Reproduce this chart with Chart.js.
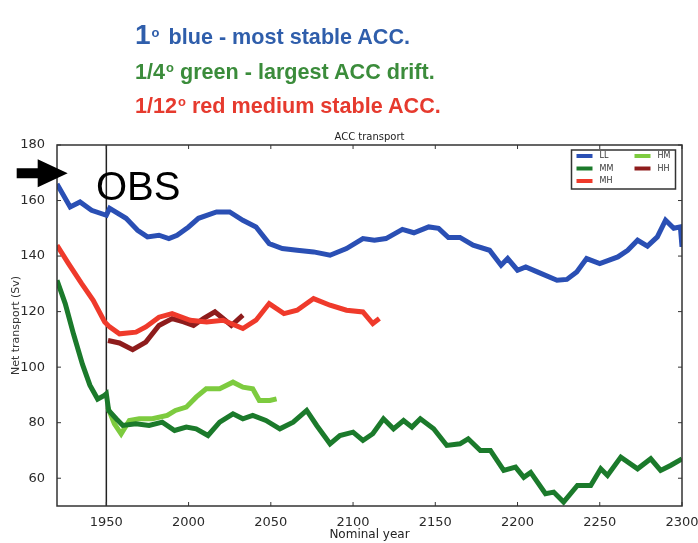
<!DOCTYPE html>
<html>
<head>
<meta charset="utf-8">
<script src="https://cdn.jsdelivr.net/npm/chart.js@4.4.1/dist/chart.umd.min.js"></script>
<style>
    html, body { margin: 0; padding: 0; background: #fff; overflow: hidden; width: 698px; height: 543px; }
    #wrap { position: relative; width: 720px; height: 543px; }
    #chart { position: absolute; left: 0; top: 0; }
    .note { position: absolute; left: 135px; font-family: "Liberation Sans", Arial, sans-serif; font-weight: bold; white-space: nowrap; line-height: 1; font-size: 21.6px; }
    .note .deg { position: relative; top: -0.55em; font-size: 60%; margin-left: 1px; margin-right: 6px; }
    .blue { color: #2f5eab; top: 21px; }
    .blue .big { font-size: 28px; }
    .blue .deg { margin-right: 9px; }
    .green { color: #3b8c3b; top: 61px; }
    .red { color: #e63a2e; top: 95px; }
</style>
</head>
<body>
<div id="wrap">
    <canvas id="chart" width="720" height="543"></canvas>
    <div class="note blue"><span class="big">1</span><span class="deg">o</span>blue - most stable ACC.</div>
    <div class="note green">1/4<span class="deg">o</span>green - largest ACC drift.</div>
    <div class="note red">1/12<span class="deg">o</span>red medium stable ACC.</div>
</div>
<script>
// ---------------- DATA ----------------
const xTicks = [1950, 2000, 2050, 2100, 2150, 2200, 2250, 2300];
const yTicks = [60, 80, 100, 120, 140, 160, 180];
const obsYear = 1950;

// LL (1 degree)
const llYears = [1920, 1928, 1934, 1941, 1950, 1952, 1962, 1969, 1975, 1982, 1988, 1993, 2000, 2006, 2017, 2025,
    2033, 2041, 2049, 2057, 2066, 2076, 2086, 2096, 2106, 2113, 2120, 2130, 2137, 2146, 2152, 2158, 2165, 2173,
    2183, 2190, 2194, 2200, 2205, 2212, 2224, 2230, 2236, 2242, 2250, 2261, 2267, 2273, 2279, 2285, 2290, 2295, 2299, 2300];
const llValues = [166, 157.7, 159.5, 156.5, 154.7, 157.2, 153.6, 149.3, 146.9, 147.5, 146.3, 147.5, 150.5, 153.6, 155.9, 155.9,
    152.9, 150.5, 144.5, 142.7, 142.1, 141.5, 140.3, 142.7, 146.3, 145.7, 146.3, 149.6, 148.4, 150.5, 150, 146.7, 146.7, 143.9,
    142.1, 136.7, 139.1, 134.9, 136.1, 134.3, 131.3, 131.6, 134.3, 139.1, 137.3, 139.7, 142.1, 145.7, 143.6, 146.9, 152.9, 150, 150.5, 143.3];

// MM (1/4 degree)
const mmYears = [1920, 1925, 1930, 1935.5, 1940, 1944.7, 1948.8, 1950, 1951.4, 1956, 1960, 1968, 1976, 1984, 1991.5, 1998.6,
    2004.6, 2011.8, 2018.9, 2027, 2033, 2039, 2047, 2055.5, 2063.6, 2071.8, 2077.9, 2086, 2092, 2100, 2106, 2112, 2118.5,
    2124.6, 2130.7, 2135.8, 2140.9, 2149, 2157, 2165, 2170, 2177.4, 2183.5, 2191.6, 2198.8, 2203.8, 2208, 2217, 2222, 2228,
    2236.4, 2244.5, 2250.6, 2254.7, 2262.8, 2273, 2281, 2287, 2293, 2300];
const mmValues = [131.3, 122.9, 112, 101, 93.5, 88.5, 89.8, 90.4, 84.4, 81.4, 79, 79.6, 79, 80.2, 77.2, 78.4,
    77.8, 75.4, 80.2, 83.2, 81.4, 82.6, 80.8, 77.8, 80.2, 84.4, 79, 72.4, 75.4, 76.6, 73.6, 76, 81.4,
    77.8, 80.8, 78.4, 81.4, 77.8, 71.8, 72.4, 74.2, 70, 70, 62.8, 64, 60.3, 62.1, 54.4, 55, 51.4,
    57.4, 57.4, 63.4, 61, 67.6, 63.4, 67, 62.8, 64.6, 67];

// MH (1/12 degree)
const mhYears = [1920, 1927, 1935, 1942, 1949, 1952, 1958, 1968, 1974, 1982, 1990, 2001, 2011, 2021, 2033, 2041, 2049,
    2058, 2066, 2076, 2086, 2096, 2106, 2112, 2116];
const mhValues = [143.9, 137.3, 130.1, 124.1, 116.3, 114.5, 112, 112.6, 114.5, 118, 119.3, 116.9, 116.3, 116.9, 113.9, 116.9, 122.9,
    119.3, 120.5, 124.7, 122.3, 120.5, 119.9, 115.7, 117.5];

// HM
const hmYears = [1950.8, 1954.9, 1959, 1964, 1970, 1978, 1987, 1992, 1998.6, 2004.6, 2010.7, 2018.9, 2027, 2033, 2039, 2043, 2049.4, 2053.5];
const hmValues = [85.6, 79.6, 76, 80.8, 81.4, 81.4, 82.6, 84.4, 85.6, 89.2, 92.2, 92.2, 94.6, 92.8, 92.2, 88, 88, 88.6];

// HH
const hhYears = [1951, 1958, 1966, 1974, 1982, 1990, 1997, 2003, 2009, 2016, 2021, 2026, 2033];
const hhValues = [109.6, 108.7, 106.3, 109, 115, 117.5, 116.3, 115, 117.5, 119.9, 117.5, 115, 118.7];

const pts = (xs, ys) => xs.map((x, i) => ({ x, y: ys[i] }));

// ---------------- DECORATIONS ----------------
const AXIS_COLOR = '#333';

const framePlugin = {
    id: 'frame',
    beforeDatasetsDraw(chart) {
        const { ctx, chartArea: a, scales: { x } } = chart;
        // OBS year marker
        const px = x.getPixelForValue(obsYear);
        ctx.save();
        ctx.strokeStyle = '#222';
        ctx.lineWidth = 1.5;
        ctx.beginPath();
        ctx.moveTo(px, a.top);
        ctx.lineTo(px, a.bottom);
        ctx.stroke();
        ctx.restore();
    },
    afterDatasetsDraw(chart) {
        const { ctx, chartArea: a, scales: { x, y } } = chart;
        ctx.save();
        ctx.strokeStyle = AXIS_COLOR;
        ctx.lineWidth = 1.5;
        ctx.strokeRect(a.left, a.top, a.right - a.left, a.bottom - a.top);

        // inward tick marks on all four sides
        ctx.lineWidth = 1;
        const len = 4;
        ctx.beginPath();
        xTicks.forEach(v => {
            const px = x.getPixelForValue(v);
            ctx.moveTo(px, a.bottom); ctx.lineTo(px, a.bottom - len);
            ctx.moveTo(px, a.top); ctx.lineTo(px, a.top + len);
        });
        yTicks.forEach(v => {
            const py = y.getPixelForValue(v);
            ctx.moveTo(a.left, py); ctx.lineTo(a.left + len, py);
            ctx.moveTo(a.right, py); ctx.lineTo(a.right - len, py);
        });
        ctx.stroke();

        // plot title
        ctx.fillStyle = '#222';
        ctx.font = '10px "DejaVu Sans", sans-serif';
        ctx.textAlign = 'center';
        ctx.textBaseline = 'middle';
        ctx.fillText('ACC transport', (a.left + a.right) / 2, a.top - 8);
        ctx.restore();
    },
    afterDraw(chart) {
        const { ctx, scales: { x, y } } = chart;
        ctx.save();

        // legend box, two columns
        const bx = 571.5, by = 150, bw = 104, bh = 39;
        ctx.fillStyle = '#fff';
        ctx.fillRect(bx, by, bw, bh);
        ctx.strokeStyle = AXIS_COLOR;
        ctx.lineWidth = 1.5;
        ctx.strokeRect(bx, by, bw, bh);
        const slots = [[0, 0], [0, 1], [0, 2], [1, 0], [1, 1]];
        ctx.font = '8px "DejaVu Sans", sans-serif';
        ctx.textBaseline = 'middle';
        ctx.textAlign = 'left';
        chart.data.datasets.forEach((ds, i) => {
            const [col, row] = slots[i];
            const lx = bx + 5 + col * 58;
            const ly = by + 6 + row * 12.5;
            ctx.strokeStyle = ds.borderColor;
            ctx.lineWidth = 4;
            ctx.beginPath();
            ctx.moveTo(lx, ly);
            ctx.lineTo(lx + 16, ly);
            ctx.stroke();
            ctx.fillStyle = '#333';
            ctx.fillText(ds.label, lx + 23, ly);
        });

        // arrow pointing at the observed value
        const tx = x.getPixelForValue(1926.5);
        const ty = y.getPixelForValue(169.8);
        ctx.fillStyle = '#000';
        ctx.beginPath();
        ctx.moveTo(tx, ty);
        ctx.lineTo(tx - 30, ty - 14);
        ctx.lineTo(tx - 30, ty - 5);
        ctx.lineTo(tx - 51, ty - 5);
        ctx.lineTo(tx - 51, ty + 5);
        ctx.lineTo(tx - 30, ty + 5);
        ctx.lineTo(tx - 30, ty + 14);
        ctx.closePath();
        ctx.fill();

        ctx.font = '40px "Liberation Sans", Arial, sans-serif';
        ctx.textAlign = 'left';
        ctx.textBaseline = 'alphabetic';
        ctx.fillText('OBS', 96, 200);
        ctx.restore();
    }
};

// ---------------- CHART ----------------
const line = (label, xs, ys, color, width) => ({
    label,
    data: pts(xs, ys),
    borderColor: color,
    backgroundColor: color,
    borderWidth: width,
    pointRadius: 0,
    tension: 0,
    fill: false
});

new Chart(document.getElementById('chart').getContext('2d'), {
    type: 'line',
    data: {
        datasets: [
            line('LL', llYears, llValues, '#2a4fb4', 5),
            line('MM', mmYears, mmValues, '#1b7a2b', 5),
            line('MH', mhYears, mhValues, '#ef3a2b', 5),
            line('HM', hmYears, hmValues, '#7dcb3f', 5),
            line('HH', hhYears, hhValues, '#8e1c1c', 5)
        ]
    },
    options: {
        responsive: false,
        animation: false,
        layout: { padding: { top: 145, right: 38, left: 0, bottom: 0 } },
        plugins: { legend: { display: false }, tooltip: { enabled: false } },
        scales: {
            x: {
                type: 'linear',
                min: 1920,
                max: 2300,
                afterBuildTicks: s => { s.ticks = xTicks.map(v => ({ value: v })); },
                afterFit: s => { s.height = 37; },
                grid: { display: false },
                border: { display: false },
                ticks: { color: '#2a2a2a', padding: 1, callback: v => String(v),
                    font: { family: 'DejaVu Sans', size: 13 } },
                title: { display: true, text: 'Nominal year', color: '#222', padding: { top: 0, bottom: 1 },
                    font: { family: 'DejaVu Sans', size: 12 } }
            },
            y: {
                min: 50,
                max: 180,
                afterBuildTicks: s => { s.ticks = yTicks.map(v => ({ value: v })); },
                afterFit: s => { s.width = 57; },
                grid: { display: false },
                border: { display: false },
                ticks: { color: '#2a2a2a', padding: 4, font: { family: 'DejaVu Sans', size: 13 } },
                title: { display: true, text: 'Net transport (Sv)', color: '#333', padding: { top: 10, bottom: 0 },
                    font: { family: 'DejaVu Sans', size: 11 } }
            }
        }
    },
    plugins: [framePlugin]
});
</script>
</body>
</html>
